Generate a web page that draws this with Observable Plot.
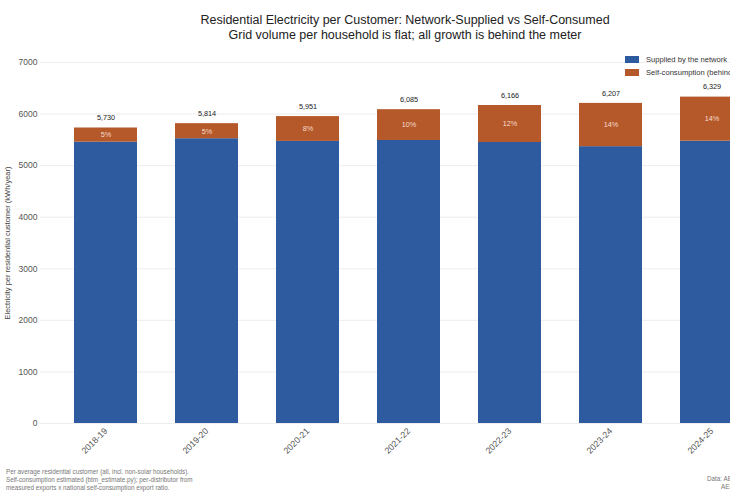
<!DOCTYPE html>
<html><head><meta charset="utf-8">
<script src="https://cdn.jsdelivr.net/npm/d3@7"></script>
<script src="https://cdn.jsdelivr.net/npm/@observablehq/plot@0.6"></script>
<style>
body{margin:0;background:#fff;font-family:"Liberation Sans",Arial,Helvetica,sans-serif;}
#page{position:relative;width:750px;height:500px;overflow:hidden;background:#fff;}
#clip{position:absolute;left:0;top:0;width:730px;height:500px;overflow:hidden;}
.title{position:absolute;left:0;width:810px;text-align:center;color:#222;font-size:12.5px;line-height:15px;white-space:nowrap;}
#chart{position:absolute;left:0;top:0;width:810px;}
#chart svg{max-width:none !important;}
.leg{position:absolute;font-size:7.6px;color:#333;white-space:nowrap;line-height:10px;}
.sw{position:absolute;width:14px;height:7px;}
.foot{position:absolute;left:6px;top:468px;font-size:6.3px;line-height:8px;color:#777;white-space:nowrap;}
.src{position:absolute;font-size:6.3px;line-height:8px;color:#777;white-space:nowrap;}
</style></head>
<body>
<div id="page">
  <div id="clip">
    <div id="chart"></div>
    <div class="title" style="top:13px">Residential Electricity per Customer: Network-Supplied vs Self-Consumed</div>
    <div class="title" style="top:28px">Grid volume per household is flat; all growth is behind the meter</div>
    <div id="legend"></div>
    <div class="src" style="left:707px;top:475px">Data: AER RIN</div>
    <div class="src" style="left:721px;top:483px">AEMO</div>
  </div>
  <div class="foot">Per average residential customer (all, incl. non-solar households).<br>Self-consumption estimated (btm_estimate.py); per-distributor from<br>measured exports x national self-consumption export ratio.</div>
</div>
<script>
const years = ["2018-19","2019-20","2020-21","2021-22","2022-23","2023-24","2024-25"];
const totals = [5730, 5814, 5951, 6085, 6166, 6207, 6329];
const network = [5455, 5522, 5470, 5488, 5449, 5368, 5474];
const pctLabels = ["5%","5%","8%","10%","12%","14%","14%"];
const seriesNames = ["Supplied by the network", "Self-consumption (behind the meter)"];
const seriesColors = ["#2e5ba0", "#b5582a"];
const yTicks = [0, 1000, 2000, 3000, 4000, 5000, 6000, 7000];

const rows = [];
years.forEach((yr, i) => {
  rows.push({year: yr, series: seriesNames[0], value: network[i]});
  rows.push({year: yr, series: seriesNames[1], value: totals[i] - network[i]});
});
const summary = years.map((yr, i) => ({
  year: yr, total: totals[i], mid: network[i] + (totals[i] - network[i]) / 2, pct: pctLabels[i]
}));

const chart = Plot.plot({
  width: 810,
  height: 460,
  marginLeft: 40,
  marginRight: 33,
  marginTop: 62,
  marginBottom: 37,
  style: {fontFamily: "Liberation Sans, Arial, sans-serif", background: "transparent", maxWidth: "none"},
  x: {domain: years, paddingInner: 0.378, paddingOuter: 0.33, label: null},
  y: {domain: [0, 7000], label: null},
  color: {domain: seriesNames, range: seriesColors},
  marks: [
    Plot.gridY(yTicks, {stroke: "#e8e8e8", strokeOpacity: 1, strokeWidth: 0.8}),
    Plot.barY(rows, {x: "year", y: "value", fill: "series"}),
    Plot.text(summary, {x: "year", y: "total", text: d => d3.format(",")(d.total), dy: -10, fontSize: 7.3, fill: "#222"}),
    Plot.text(summary, {x: "year", y: "mid", text: "pct", fontSize: 7.3, fill: "#f6ddcc"}),
    Plot.axisY(yTicks, {tickSize: 0, tickPadding: 3, tickFormat: d3.format("d"), fontSize: 8.5, color: "#555",
      label: "Electricity per residential customer (kWh/year)", labelAnchor: "center", labelArrow: "none", labelOffset: 36}),
    Plot.axisX({tickSize: 0, tickPadding: 6, tickRotate: -45, fontSize: 8.8, color: "#555", label: null})
  ]
});
chart.style.maxWidth = "none";
document.getElementById("chart").appendChild(chart);

chart.querySelectorAll("g[aria-label='y-axis label'] text").forEach(t => { t.setAttribute("font-size", "7.5"); t.setAttribute("fill", "#444"); });

const legend = document.getElementById("legend");
seriesNames.forEach((name, i) => {
  const top = 56 + i * 13;
  const sw = document.createElement("div");
  sw.className = "sw";
  sw.style.left = "625px"; sw.style.top = top + "px"; sw.style.background = seriesColors[i];
  legend.appendChild(sw);
  const lab = document.createElement("div");
  lab.className = "leg";
  lab.style.left = "646px"; lab.style.top = (top - 1.5) + "px";
  lab.textContent = name;
  legend.appendChild(lab);
});
</script>
</body></html>
